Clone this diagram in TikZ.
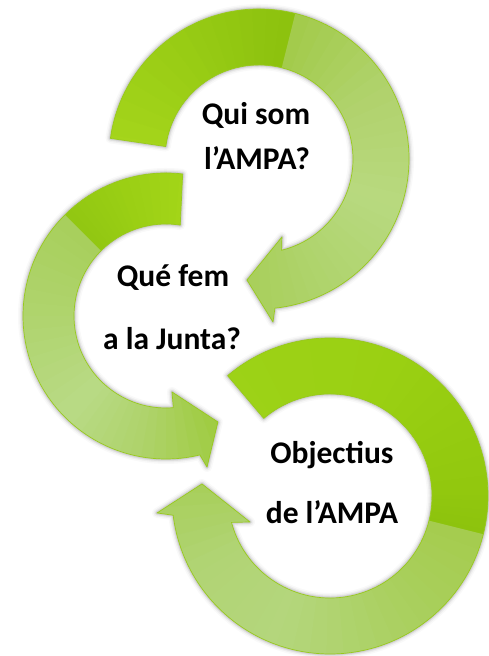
\documentclass[tikz,border=0pt]{standalone}
\usepackage{fontspec}
\setmainfont{Carlito}
\definecolor{ga1}{HTML}{A6D61C}
\definecolor{ga2}{HTML}{97CB14}
\definecolor{ga3}{HTML}{8CC10E}
\definecolor{ga4}{HTML}{A2CA4A}
\definecolor{ga5}{HTML}{B0D26C}
\definecolor{ga6}{HTML}{B8D97F}
\definecolor{ga7}{HTML}{B0D46E}
\definecolor{ga8}{HTML}{A7CE58}
\definecolor{gb1}{HTML}{A5D619}
\definecolor{gb2}{HTML}{9ACF14}
\definecolor{gb3}{HTML}{92C712}
\definecolor{gb4}{HTML}{A8CF5C}
\definecolor{gb5}{HTML}{AFD46D}
\definecolor{gb6}{HTML}{B9DA86}
\definecolor{gb7}{HTML}{AED36A}
\definecolor{gb8}{HTML}{9DCA3A}
\definecolor{gc1}{HTML}{9DD217}
\definecolor{gc2}{HTML}{9AD012}
\definecolor{gc3}{HTML}{91C70E}
\definecolor{gc4}{HTML}{8DC30D}
\definecolor{gc5}{HTML}{A5CC4E}
\definecolor{gc6}{HTML}{AAD060}
\definecolor{gc7}{HTML}{B4D67C}
\definecolor{gc8}{HTML}{B1D475}
\definecolor{gc9}{HTML}{A6CE55}
\definecolor{edgegreen}{HTML}{98C91E}
\newcommand\gradslices[1]{%
  \foreach \sa/\ca/\sb/\cb in {#1}{%
    \foreach \k in {0,...,7}{%
      \pgfmathsetmacro\angA{\sa+(\sb-\sa)*\k/8}%
      \pgfmathsetmacro\angB{\sa+(\sb-\sa)*(\k+1.3)/8}%
      \pgfmathtruncatemacro\pc{100-(\k+0.5)*100/8}%
      \fill[fill={\ca!\pc!\cb}] (0,0) -- (\angA:240) -- (\angB:240) -- cycle;
    }%
  }%
}
\newcommand\glow[1]{%
  \foreach \w/\o in {10/0.025,7/0.04,4.5/0.06,2.5/0.08}{%
    \draw[line width=\w, black, opacity=\o, line join=round] #1;}%
}
\begin{document}
\begin{tikzpicture}[x=1pt,y=1pt,
  lbl/.style={font=\fontsize{31.5}{38}\selectfont\bfseries, inner sep=0pt, anchor=base, text=black},
  edgeline/.style={draw=edgegreen, line width=0.7pt, line join=round}]
\useasboundingbox (0,0) rectangle (488,656);
\fill[white] (0,0) rectangle (488,656);

% Arrow 1 (top)
\begin{scope}[shift={(259,497)}]
  \def\pathA{(172.1:150) arc[start angle=172.1, end angle=-83.9, radius=150] -- (-85.1:163.6) -- (-95.7:121.6) -- (-73.6:81.3) -- (-76.1:94) arc[start angle=-76.1, end angle=172.4, radius=94] -- cycle}
  \glow{\pathA}
  \begin{scope}
    \clip \pathA;
    \gradslices{178/ga1/120/ga2, 120/ga2/76/ga3, 76/ga4/30/ga5, 30/ga5/-20/ga6, -20/ga6/-60/ga7, -60/ga7/-100/ga8}
  \end{scope}
  \path[edgeline] \pathA;
\end{scope}

% Arrow 2 (middle left)
\begin{scope}[shift={(166,340)}]
  \def\pathB{(83.3:143) arc[start angle=83.3, end angle=283.7, radius=143] -- (285.2:156.5) -- (296.1:118) -- (274.5:76.2) -- (274.6:92) arc[start angle=274.6, end angle=81.1, radius=92] -- cycle}
  \glow{\pathB}
  \begin{scope}
    \clip \pathB;
    \gradslices{76/gb1/110/gb2, 110/gb2/135/gb3, 135/gb4/180/gb5, 180/gb5/225/gb6, 225/gb6/260/gb7, 260/gb7/300/gb8}
  \end{scope}
  \path[edgeline] \pathB;
\end{scope}

% Arrow 3 (bottom right)
\begin{scope}[shift={(330,160)}]
  \def\pathC{(130.4:158) arc[start angle=130.4, end angle=-173, radius=158] -- (-174.4:173.8) -- (-185.4:128.6) -- (-162:84.1) -- (-165:102) arc[start angle=-165, end angle=130.5, radius=102] -- cycle}
  \glow{\pathC}
  \begin{scope}
    \clip \pathC;
    \gradslices{135/gc1/60/gc2, 60/gc2/0/gc3, 0/gc3/-14/gc4, -14/gc5/-60/gc6, -60/gc6/-110/gc7, -110/gc7/-150/gc8, -150/gc8/-192/gc9}
  \end{scope}
  \path[edgeline] \pathC;
\end{scope}

% Labels
\node[lbl] (t1a) at (256,531) {Qui som};
\node[lbl] (t1b) at (257,486) {l’AMPA?};
\node[lbl] (t2a) at (173,369) {Qué fem};
\node[lbl] (t2b) at (172,306) {a la Junta?};
\node[lbl] (t3a) at (332,192) {Objectius};
\node[lbl] (t3b) at (332,132) {de l’AMPA};
\end{tikzpicture}
\end{document}
